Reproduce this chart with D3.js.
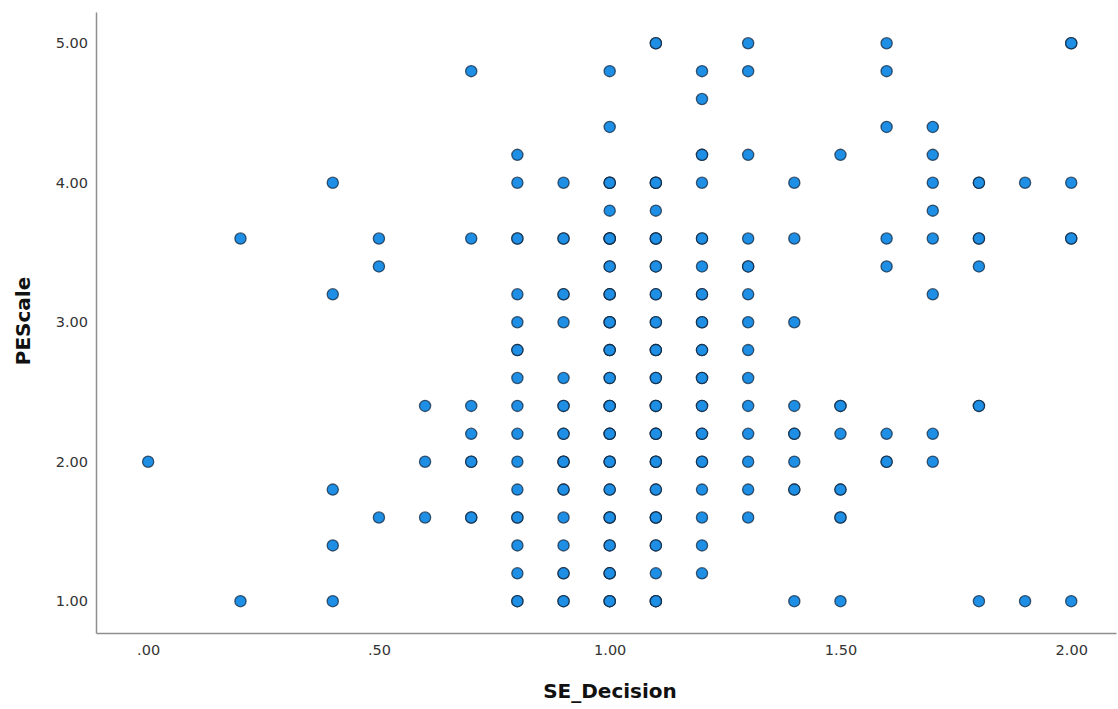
<!DOCTYPE html>
<html>
<head>
<meta charset="utf-8">
<script src="https://cdn.jsdelivr.net/npm/d3@7"></script>
<style>
  body { margin: 0; background: #fff; }
  svg { display: block; }
  .tick text { font-family: "DejaVu Sans", sans-serif; font-size: 14.5px; fill: #333; }
  .title { font-family: "DejaVu Sans", sans-serif; font-size: 20px; font-weight: bold; fill: #111; }
</style>
</head>
<body>
<svg width="1118" height="709"></svg>
<script>
// SE_Decision levels and the PEScale values observed at each level (repeats = overlapping cases)
var seLevels = [0, 0.2, 0.4, 0.5, 0.6, 0.7, 0.8, 0.9, 1.0, 1.1, 1.2, 1.3, 1.4, 1.5, 1.6, 1.7, 1.8, 1.9, 2.0];
var peByLevel = [
  [2.0],
  [3.6, 1.0],
  [4.0, 3.2, 1.8, 1.4, 1.0],
  [3.6, 3.4, 1.6],
  [2.4, 2.0, 1.6],
  [4.8, 3.6, 2.4, 2.2, 2.0, 2.0, 1.6, 1.6],
  [4.2, 4.0, 3.6, 3.6, 3.2, 3.0, 2.8, 2.8, 2.6, 2.4, 2.2, 2.0, 1.8, 1.6, 1.6, 1.4, 1.2, 1.0, 1.0],
  [4.0, 3.6, 3.6, 3.2, 3.2, 3.0, 2.6, 2.4, 2.4, 2.2, 2.2, 2.0, 2.0, 2.0, 1.8, 1.8, 1.6, 1.4, 1.2, 1.2, 1.0, 1.0],
  [4.8, 4.4, 4.0, 4.0, 4.0, 3.8, 3.6, 3.6, 3.6, 3.6, 3.4, 3.4, 3.2, 3.2, 3.2, 3.0, 3.0, 3.0, 2.8, 2.8, 2.8,
   2.6, 2.6, 2.4, 2.4, 2.4, 2.2, 2.2, 2.2, 2.0, 2.0, 2.0, 1.8, 1.8, 1.6, 1.6, 1.6, 1.4, 1.4, 1.2, 1.2, 1.2, 1.0, 1.0, 1.0],
  [5.0, 5.0, 4.0, 4.0, 4.0, 3.8, 3.6, 3.6, 3.6, 3.4, 3.4, 3.2, 3.2, 3.0, 3.0, 2.8, 2.8, 2.8, 2.6, 2.6,
   2.4, 2.4, 2.4, 2.2, 2.2, 2.2, 2.0, 2.0, 2.0, 1.8, 1.8, 1.6, 1.6, 1.6, 1.4, 1.4, 1.2, 1.0, 1.0, 1.0],
  [4.8, 4.6, 4.2, 4.2, 4.0, 3.6, 3.6, 3.4, 3.2, 3.2, 3.0, 3.0, 2.8, 2.8, 2.6, 2.6, 2.4, 2.4, 2.2, 2.2, 2.0, 2.0, 1.8, 1.6, 1.4, 1.2],
  [5.0, 4.8, 4.2, 3.6, 3.4, 3.4, 3.2, 3.0, 2.8, 2.6, 2.4, 2.2, 2.0, 1.8, 1.6],
  [4.0, 3.6, 3.0, 2.4, 2.2, 2.2, 2.0, 1.8, 1.8, 1.0],
  [4.2, 2.4, 2.4, 2.2, 1.8, 1.8, 1.6, 1.6, 1.0],
  [5.0, 4.8, 4.4, 3.6, 3.4, 2.2, 2.0, 2.0],
  [4.4, 4.2, 4.0, 3.8, 3.6, 3.2, 2.2, 2.0],
  [4.0, 4.0, 3.6, 3.6, 3.4, 2.4, 2.4, 1.0],
  [4.0, 1.0],
  [5.0, 5.0, 4.0, 3.6, 3.6, 1.0]
];
var xTicks = [0, 0.5, 1.0, 1.5, 2.0];
var yTicks = [1, 2, 3, 4, 5];

var points = [];
seLevels.forEach(function(se, i) {
  peByLevel[i].forEach(function(pe) { points.push({ se: se, pe: pe }); });
});

var svg = d3.select("svg");

var plotLeft = 96, plotRight = 1116, plotTop = 12, plotBottom = 633;

var x = d3.scaleLinear().domain([-0.113, 2.097]).range([plotLeft, plotRight]);
var y = d3.scaleLinear().domain([0.772, 5.224]).range([plotBottom, plotTop]);

var fmt = function(d) { return d3.format(".2f")(d).replace(/^0\./, "."); };

var xAxis = svg.append("g")
    .attr("transform", "translate(0," + plotBottom + ")")
    .call(d3.axisBottom(x).tickValues(xTicks).tickFormat(fmt).tickSize(0).tickPadding(12));
xAxis.select(".domain").attr("stroke", "#8f8f8f").attr("stroke-width", 1.5);

var yAxis = svg.append("g")
    .attr("transform", "translate(" + plotLeft + ",0)")
    .call(d3.axisLeft(y).tickValues(yTicks).tickFormat(fmt).tickSize(0).tickPadding(8));
yAxis.select(".domain").attr("stroke", "#8f8f8f").attr("stroke-width", 1.5);

svg.append("text")
    .attr("class", "title")
    .attr("x", 610)
    .attr("y", 698)
    .attr("text-anchor", "middle")
    .text("SE_Decision");

svg.append("text")
    .attr("class", "title")
    .attr("transform", "translate(30,321) rotate(-90)")
    .attr("text-anchor", "middle")
    .text("PEScale");

svg.append("g")
  .selectAll("circle")
  .data(points)
  .enter().append("circle")
    .attr("cx", function(d) { return x(d.se); })
    .attr("cy", function(d) { return y(d.pe); })
    .attr("r", 5.6)
    .attr("fill", "#1e8fe4")
    .attr("stroke", "#0d1e33")
    .attr("stroke-opacity", 0.7)
    .attr("stroke-width", 1.3);
</script>
</body>
</html>
